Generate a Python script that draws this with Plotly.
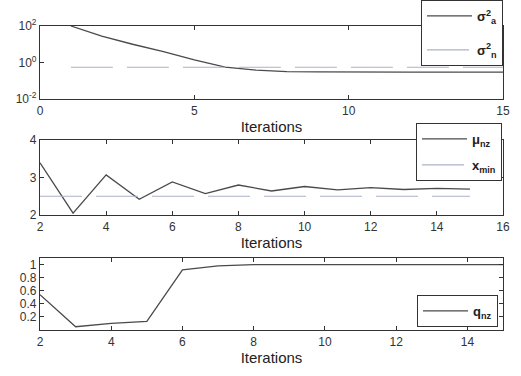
import plotly.graph_objects as go

# ---- data ----
iter1 = list(range(1, 16))
sigma_a2 = [100, 28, 10, 4.0, 1.4, 0.56, 0.38, 0.32, 0.31, 0.30, 0.30, 0.30, 0.30, 0.30, 0.30]
sigma_n2 = [0.55] * 15

iter2 = list(range(2, 16))
mu_nz = [3.39, 2.05, 3.07, 2.42, 2.88, 2.57, 2.80, 2.64, 2.76, 2.67, 2.73, 2.68, 2.71, 2.69]
x_min = [2.5] * 14

iter3 = list(range(2, 16))
q_nz = [0.54, 0.05, 0.10, 0.13, 0.92, 0.98, 1.0, 1.0, 1.0, 1.0, 1.0, 1.0, 1.0, 1.0]

W, H = 521, 376
FONT = "Liberation Sans, Arial, sans-serif"
DARK = "#4a4a4a"
LIGHT = "#aab3c6"

def px_x(p):
    return p / W

def px_y(p):
    return 1 - p / H

fig = go.Figure()

fig.add_trace(go.Scatter(x=iter1, y=sigma_a2, mode="lines", line=dict(color=DARK, width=1.3),
                         name="σ<sup>2</sup><sub>a</sub>", xaxis="x", yaxis="y", legend="legend", legendgroup="a"))
fig.add_trace(go.Scatter(x=iter1, y=sigma_n2, mode="lines", line=dict(color=LIGHT, width=1.2, dash="42px,14px"),
                         name="σ<sup>2</sup><sub>n</sub>", xaxis="x", yaxis="y", legend="legend", legendgroup="b"))

fig.add_trace(go.Scatter(x=iter2, y=mu_nz, mode="lines", line=dict(color=DARK, width=1.3),
                         name="μ<sub>nz</sub>", xaxis="x2", yaxis="y2", legend="legend2", legendgroup="c"))
fig.add_trace(go.Scatter(x=iter2, y=x_min, mode="lines", line=dict(color=LIGHT, width=1.2, dash="42px,14px"),
                         name="x<sub>min</sub>", xaxis="x2", yaxis="y2", legend="legend2", legendgroup="d"))

fig.add_trace(go.Scatter(x=iter3, y=q_nz, mode="lines", line=dict(color=DARK, width=1.3),
                         name="q<sub>nz</sub>", xaxis="x3", yaxis="y3", legend="legend3"))

axis_common = dict(showline=True, linecolor="#333", linewidth=1.2, mirror="ticks", ticks="inside",
                   ticklen=4, tickcolor="#333", showgrid=False, zeroline=False, automargin=False,
                   tickfont=dict(family=FONT, size=12, color="#333"))

xtitle = dict(text="Iterations", font=dict(family=FONT, size=15, color="#222"), standoff=4)

leg_font = dict(family=FONT, size=13, color="#222", weight="bold")

fig.update_layout(
    width=W, height=H, margin=dict(l=0, r=0, t=0, b=0, autoexpand=False),
    paper_bgcolor="white", plot_bgcolor="white",
    font=dict(family=FONT),
    xaxis=dict(domain=[px_x(40), px_x(503)], anchor="y", range=[0, 15], tickvals=[0, 5, 10, 15],
               title=xtitle, **axis_common),
    yaxis=dict(domain=[px_y(99), px_y(26)], anchor="x", type="log", range=[-2, 2],
               tickvals=[0.01, 1, 100], ticktext=["10<sup>-2</sup>", "10<sup>0</sup>", "10<sup>2</sup>"],
               **axis_common),
    xaxis2=dict(domain=[px_x(40), px_x(503)], anchor="y2", range=[2, 16], tickvals=list(range(2, 17, 2)),
                title=xtitle, **axis_common),
    yaxis2=dict(domain=[px_y(215), px_y(140)], anchor="x2", range=[2, 4], tickvals=[2, 3, 4], **axis_common),
    xaxis3=dict(domain=[px_x(40), px_x(503)], anchor="y3", range=[2, 15], tickvals=list(range(2, 15, 2)),
                title=xtitle, **axis_common),
    yaxis3=dict(domain=[px_y(330), px_y(258)], anchor="x3", range=[0, 1.1],
                tickvals=[0.2, 0.4, 0.6, 0.8, 1], ticktext=["0.2", "0.4", "0.6", "0.8", "1"], **axis_common),
    legend=dict(x=px_x(503), xanchor="right", y=1.0, yanchor="top", bgcolor="white",
                bordercolor="#333", borderwidth=1, tracegroupgap=14, traceorder="grouped",
                itemwidth=45, font=leg_font),
    legend2=dict(x=px_x(502), xanchor="right", y=px_y(123), yanchor="top", bgcolor="white",
                 bordercolor="#333", borderwidth=1, tracegroupgap=6, traceorder="grouped",
                 itemwidth=45, font=leg_font),
    legend3=dict(x=px_x(498), xanchor="right", y=px_y(295), yanchor="top", bgcolor="white",
                 bordercolor="#333", borderwidth=1, itemwidth=45, font=leg_font),
)

fig.write_html("out.html", config={"displayModeBar": False},
               post_script="document.body.style.margin='0px';document.body.style.overflow='hidden';")
